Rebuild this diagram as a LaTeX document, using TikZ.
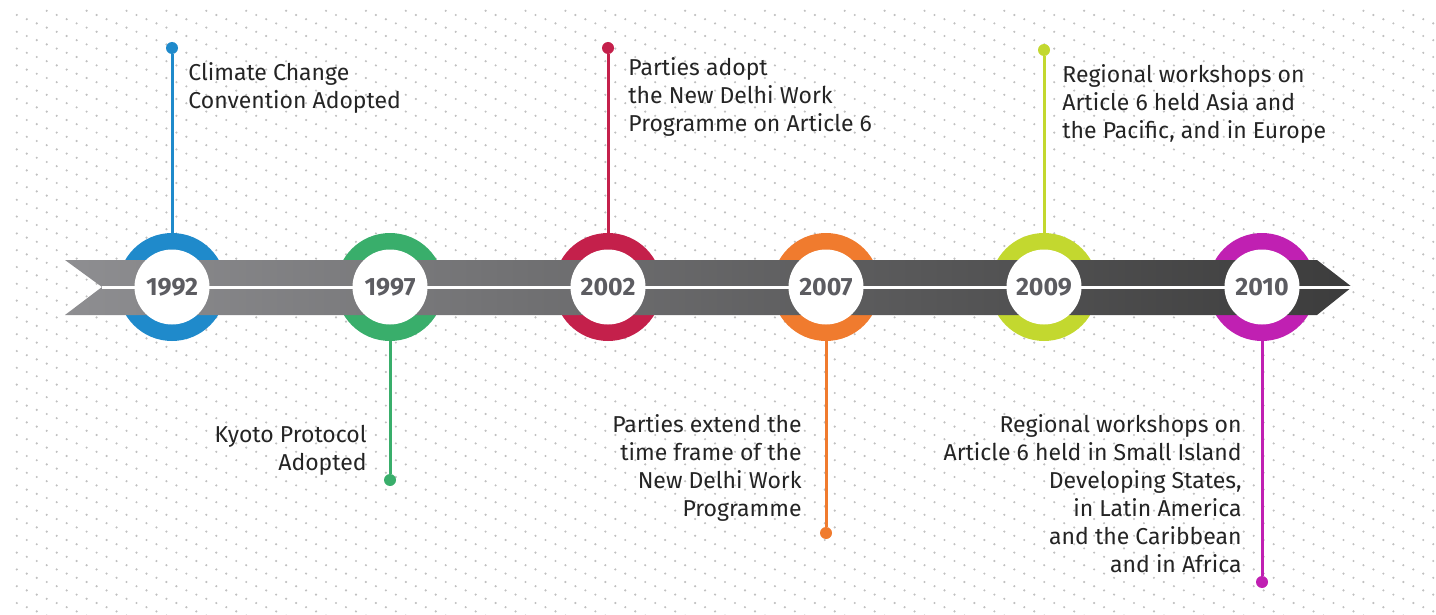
\documentclass[tikz,border=0pt]{standalone}
\usepackage{fontspec}
\setmainfont{Fira Sans}
\usepackage{tikz}

\begin{document}
\begin{tikzpicture}[x=0.5pt,y=0.5pt,yscale=-1,xscale=1,
  ring/.style={circle,inner sep=0pt,minimum size=54pt,fill},
  hub/.style={circle,inner sep=0pt,minimum size=37.5pt,fill=white,text={rgb,255:red,92;green,92;blue,97},font=\fontsize{12.5}{15}\selectfont\bfseries},
  pin/.style={circle,inner sep=0pt,minimum size=6pt,fill},
  stem/.style={line width=1.5pt},
  note/.style={inner sep=0pt,font=\fontsize{11.5}{14}\selectfont,text={rgb,255:red,36;green,36;blue,36}},
  c1992/.style={color={rgb,255:red,31;green,138;blue,203}},
  c1997/.style={color={rgb,255:red,57;green,174;blue,107}},
  c2002/.style={color={rgb,255:red,196;green,32;blue,75}},
  c2007/.style={color={rgb,255:red,240;green,123;blue,46}},
  c2009/.style={color={rgb,255:red,195;green,216;blue,47}},
  c2010/.style={color={rgb,255:red,192;green,32;blue,178}},
]
\useasboundingbox (0,0) rectangle (1436,615);

%Background dots, one path per column
\begin{scope}
\clip (15,10) rectangle (1436,615);
\foreach \k in {1,...,145}{
  \fill[color={rgb,255:red,192;green,192;blue,192}] \foreach \m in {-1,...,37}{ ({-3.15+\k*9.975},{6.6+mod(\k,4)*4.2+\m*16.8}) circle (0.6pt) };
}
\end{scope}

%Shape: Rings
\node[ring,c1992] (y1992) at (172,287) {};
\node[ring,c1997] (y1997) at (390,287) {};
\node[ring,c2002] (y2002) at (608,287) {};
\node[ring,c2007] (y2007) at (826,287) {};
\node[ring,c2009] (y2009) at (1044,287) {};
\node[ring,c2010] (y2010) at (1262,287) {};

%Shape: Pins
\node[pin,c1992] (d1992) at (172,48) {};
\node[pin,c1997] (d1997) at (390,480) {};
\node[pin,c2002] (d2002) at (608,48) {};
\node[pin,c2007] (d2007) at (826,533) {};
\node[pin,c2009] (d2009) at (1044,50) {};
\node[pin,c2010] (d2010) at (1262,582) {};

%Straight Lines
\draw[stem,c1992] (y1992.north) -- (d1992);
\draw[stem,c1997] (y1997.south) -- (d1997);
\draw[stem,c2002] (y2002.north) -- (d2002);
\draw[stem,c2007] (y2007.south) -- (d2007);
\draw[stem,c2009] (y2009.north) -- (d2009);
\draw[stem,c2010] (y2010.south) -- (d2010);

%Shape: Arrow band
\shade[left color={rgb,255:red,142;green,142;blue,145},right color={rgb,255:red,60;green,60;blue,60}] (65,260) -- (1317,260) -- (1352,287) -- (1317,315) -- (65,315) -- (102,287) -- cycle;
\draw[white,line width=1.5pt] (102,287) -- (1352,287);

%Shape: Year hubs
\node[hub] (h1992) at (y1992) {1992};
\node[hub] (h1997) at (y1997) {1997};
\node[hub] (h2002) at (y2002) {2002};
\node[hub] (h2007) at (y2007) {2007};
\node[hub] (h2009) at (y2009) {2009};
\node[hub] (h2010) at (y2010) {2010};

% Text Node
\node[note,anchor=north west,align=left] (t1992) at (188,62) {Climate Change\\Convention Adopted};
% Text Node
\node[note,anchor=north east,align=right] (t1997) at (367,425) {Kyoto Protocol\\Adopted};
% Text Node
\node[note,anchor=north west,align=left] (t2002) at (628,57) {Parties adopt\\the New Delhi Work\\Programme on Article 6};
% Text Node
\node[note,anchor=north east,align=right] (t2007) at (802,414) {Parties extend the\\time frame of the\\New Delhi Work\\Programme};
% Text Node
\node[note,anchor=north west,align=left] (t2009) at (1062,64) {Regional workshops on\\Article 6 held Asia and\\the Pacific, and in Europe};
% Text Node
\node[note,anchor=north east,align=right] (t2010) at (1242,414) {Regional workshops on\\Article 6 held in Small Island\\Developing States,\\in Latin America\\and the Caribbean\\and in Africa};

\end{tikzpicture}
\end{document}
